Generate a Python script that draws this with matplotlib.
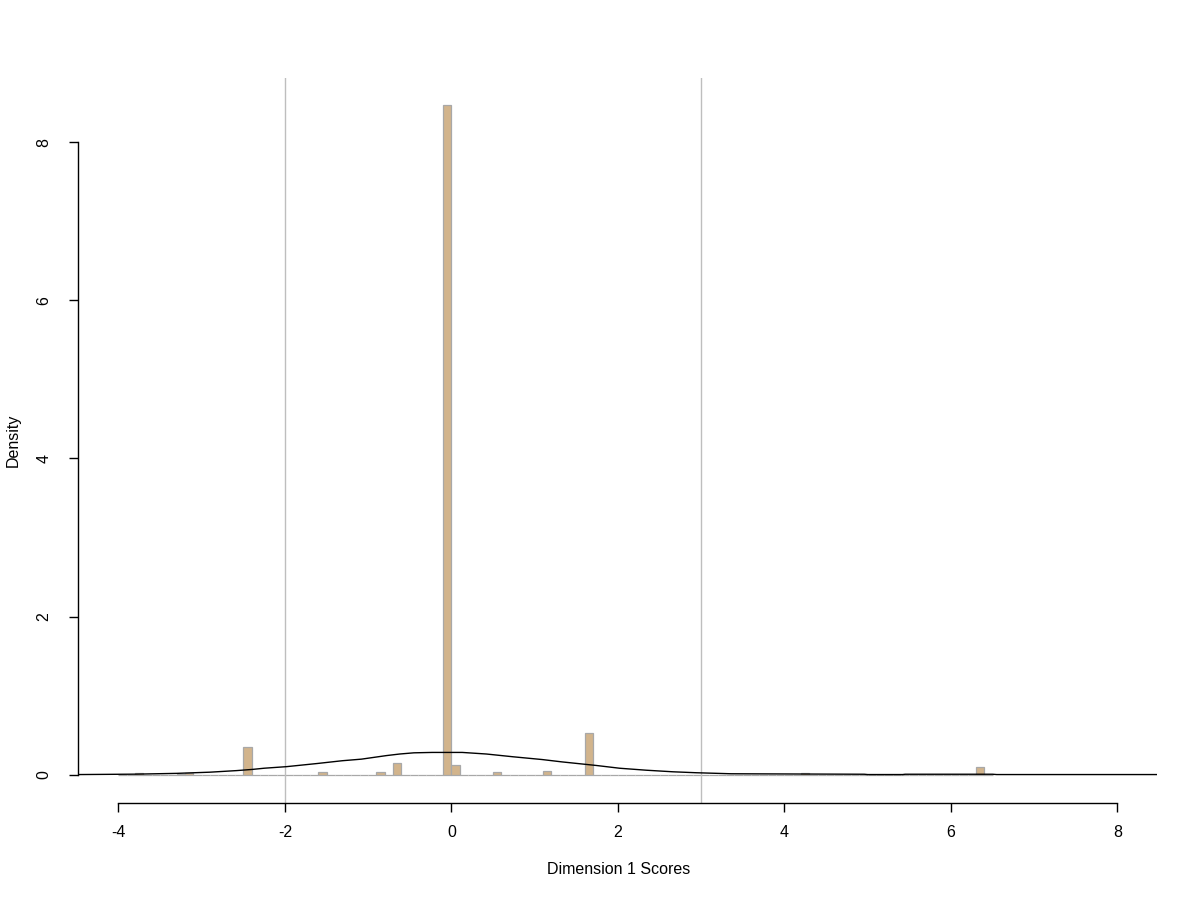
import numpy as np
import matplotlib
matplotlib.use("Agg")
import matplotlib.pyplot as plt

plt.rcParams['font.family'] = ['Liberation Sans', 'DejaVu Sans']

# Histogram (density scale), bin width 0.1, bins spanning -4.0 .. 6.5
bin_start = -4.0
bin_stop = 6.5
bin_width = 0.1
nonzero_bin_lefts = [-3.8, -3.3, -3.2, -2.5, -1.6, -0.9, -0.7, -0.1, 0.0, 0.5, 1.1, 1.6, 4.2, 6.3]
nonzero_densities = [0.015, 0.01, 0.025, 0.35, 0.035, 0.035, 0.14, 8.47, 0.12, 0.035, 0.05, 0.53, 0.025, 0.10]

# Density curve
curve_x = [-4.47, -3.8, -3.3, -2.9, -2.58, -2.39, -2.25, -1.98, -1.61, -1.31, -1.08, -0.78,
           -0.62, -0.45, -0.23, 0.13, 0.42, 0.74, 1.09, 1.33, 1.74, 2.02, 2.34, 2.66, 2.94,
           3.36, 4.96, 5.0, 5.42, 5.45, 6.5, 6.55, 8.47]
curve_y = [0.0, 0.005, 0.015, 0.03, 0.05, 0.065, 0.08, 0.10, 0.14, 0.175, 0.195, 0.24,
           0.26, 0.275, 0.28, 0.28, 0.26, 0.225, 0.19, 0.16, 0.115, 0.08, 0.055, 0.035, 0.023,
           0.01, 0.004, 0.0, 0.0, 0.004, 0.004, 0.0, 0.0]

vlines_x = [-2, 3]
x_ticks = [-4, -2, 0, 2, 4, 6, 8]
y_ticks = [0, 2, 4, 6, 8]

n_bins = int(round((bin_stop - bin_start) / bin_width))
lefts = np.round(bin_start + bin_width * np.arange(n_bins), 2)
heights = np.zeros(n_bins)
for l, d in zip(nonzero_bin_lefts, nonzero_densities):
    idx = int(round((l - bin_start) / bin_width))
    heights[idx] = d

fig = plt.figure(figsize=(12, 9), dpi=100)
ax = fig.add_axes([78.4/1200, 1 - 803/900, 1079/1200, 725/900])

ax.bar(lefts, heights, width=bin_width, align='edge', color='#D2B48C',
       edgecolor='#A8A8A8', linewidth=0.9, zorder=1)
for v in vlines_x:
    ax.axvline(v, color='#BEBEBE', linewidth=1.0, zorder=2)
ax.plot(curve_x, curve_y, color='black', linewidth=1.0, zorder=3)

ax.set_xlim(-4.48, 8.48)
ax.set_ylim(-0.36, 8.815)

for s in ['top', 'right']:
    ax.spines[s].set_visible(False)
ax.spines['bottom'].set_bounds(-4, 8)
ax.spines['left'].set_bounds(0, 8)
for s in ['bottom', 'left']:
    ax.spines[s].set_linewidth(1.0)

ax.set_xticks(x_ticks)
ax.set_xticklabels([str(t) for t in x_ticks])
ax.set_yticks(y_ticks)
ax.set_yticklabels([str(t) for t in y_ticks], rotation=90, va='center')
ax.tick_params(axis='both', length=6.5, width=1.0, labelsize=11.5)
ax.tick_params(axis='x', pad=9)
ax.tick_params(axis='y', pad=13)

fig.text(619/1200, 1 - 870/900, 'Dimension 1 Scores', ha='center', va='center', fontsize=11.5)
fig.text(13/1200, 1 - 440/900, 'Density', ha='center', va='center', rotation=90, fontsize=11.5)

fig.savefig('out.png', dpi=100, facecolor='white')
